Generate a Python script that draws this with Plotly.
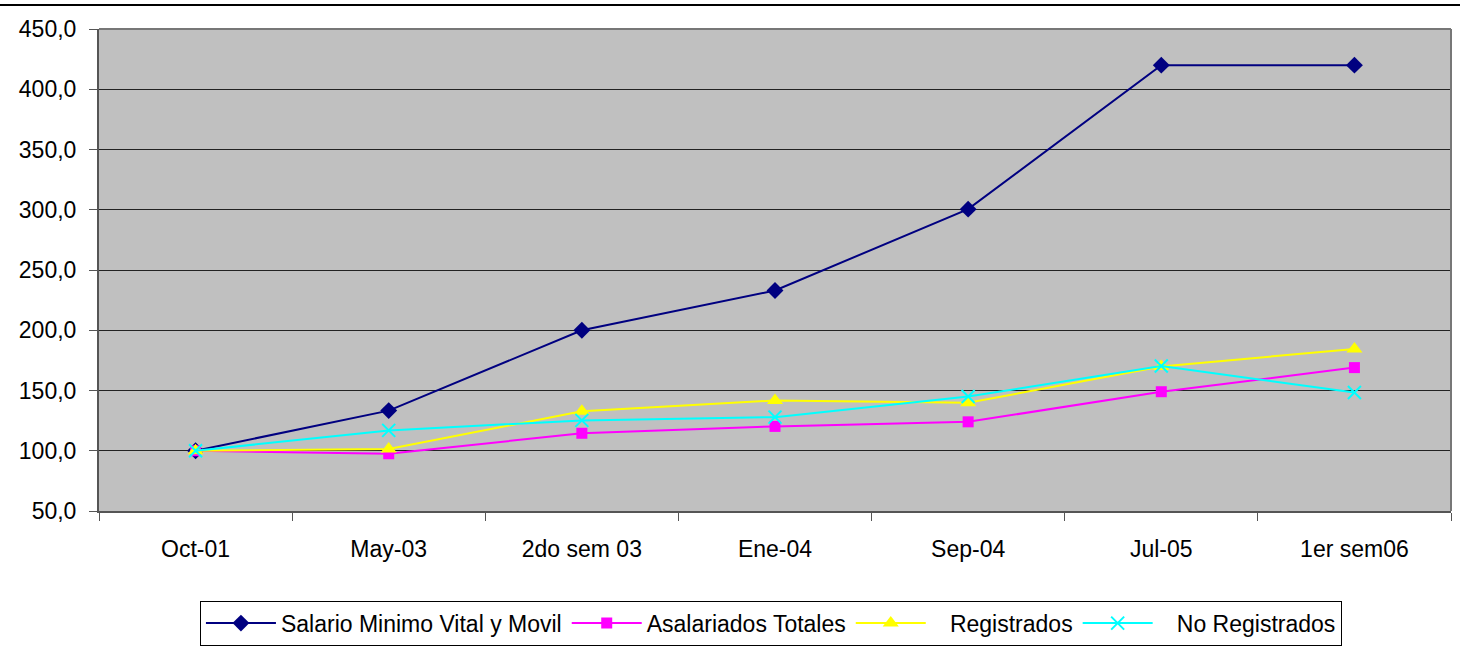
import plotly.graph_objects as go

categories = ["Oct-01", "May-03", "2do sem 03", "Ene-04", "Sep-04", "Jul-05", "1er sem06"]
salario = [100.0, 133.3, 200.0, 233.0, 300.5, 420.0, 420.0]
asalariados = [100.0, 97.5, 114.5, 120.2, 124.0, 149.0, 169.0]
registrados = [100.0, 101.5, 132.8, 141.7, 139.8, 170.0, 184.5]
no_registrados = [100.0, 116.9, 125.2, 127.9, 145.0, 170.3, 148.3]

series = [
    ("Salario Minimo Vital y Movil", salario, "#000080", "diamond", 13),
    ("Asalariados Totales", asalariados, "#FF00FF", "square", 11),
    ("   Registrados", registrados, "#FFFF00", "triangle-up", 14),
    ("   No Registrados", no_registrados, "#00FFFF", "x-thin", 13),
]

fig = go.Figure()
for name, vals, color, sym, size in series:
    marker = dict(symbol=sym, size=size, color=color)
    if sym == "x-thin":
        marker["line"] = dict(color=color, width=2)
    fig.add_trace(go.Scatter(
        x=categories, y=vals, name=name, mode="lines+markers",
        line=dict(color=color, width=2), marker=marker,
    ))

fig.update_layout(
    width=1460, height=646,
    margin=dict(l=99, r=9, t=29, b=135, autoexpand=False),
    paper_bgcolor="white",
    plot_bgcolor="#C0C0C0",
    separators=",.",
    font=dict(family="Liberation Sans, Arial, sans-serif", size=23, color="black"),
    legend=dict(
        orientation="h", x=0.497, xanchor="center", y=-0.186, yanchor="top",
        bordercolor="black", borderwidth=1, font=dict(size=23),
        itemwidth=70, tracegroupgap=0,
    ),
    shapes=[dict(type="line", xref="paper", yref="paper", x0=-0.08, x1=1.01,
                 y0=1.05, y1=1.05, line=dict(color="black", width=2))],
)
fig.update_xaxes(
    type="category", range=[-0.5, 6.5], tickson="boundaries", ticks="outside",
    ticklen=8, tickcolor="#555555", showline=True, linecolor="#555555",
    linewidth=2, mirror=False, showgrid=False, ticklabelstandoff=16,
)
fig.update_yaxes(
    range=[50, 450], dtick=50, tickformat=".1f", ticks="outside", ticklen=8,
    tickcolor="#555555", showline=True, linecolor="#555555", linewidth=2,
    gridcolor="#222222", gridwidth=1, zeroline=False, ticklabelstandoff=8,
)
fig.add_shape(type="line", xref="paper", yref="paper", x0=1, x1=1, y0=0, y1=1,
              line=dict(color="#777777", width=2))
fig.add_shape(type="line", xref="paper", yref="paper", x0=0, x1=1, y0=1, y1=1,
              line=dict(color="#777777", width=2))

fig.write_html("out.html", config={"displayModeBar": False},
               post_script="document.body.style.margin='0px';")
